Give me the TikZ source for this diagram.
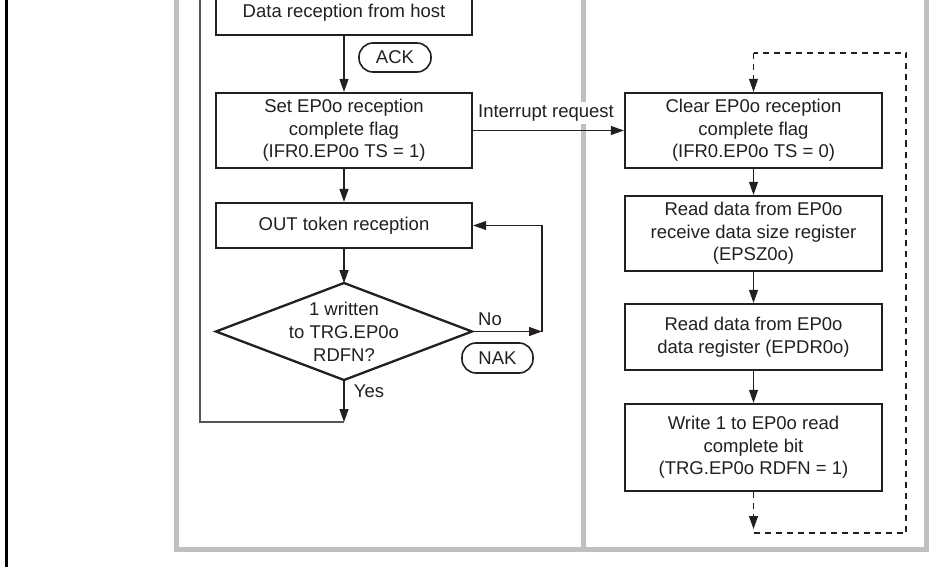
\documentclass[tikz,border=0pt]{standalone}
\usepackage{fontspec}
\setmainfont{Liberation Sans}
\usetikzlibrary{arrows.meta}
\definecolor{framegray}{HTML}{BEBFC1}
\definecolor{ink}{HTML}{231F20}
\definecolor{loopgray}{HTML}{555555}
\begin{document}
\begin{tikzpicture}[x=1pt,y=-1pt,
  font=\fontsize{18.5}{22.5}\selectfont,
  proc/.style={draw=ink, line width=2.3pt, minimum width=256pt, align=center, inner sep=0pt, text=ink},
  pill/.style={draw=ink, line width=1.6pt, rounded corners=14pt, inner sep=0pt, text=ink},
  lbl/.style={inner sep=0pt, text=ink},
  arr/.style={draw=ink, line width=1.1pt, -{Triangle[length=13pt,width=9pt]}},
  plainline/.style={draw=ink, line width=1.1pt},
  loopline/.style={draw=loopgray, line width=1.2pt},
  dashline/.style={draw=ink, line width=1.1pt, dash pattern=on 6pt off 5pt},
  dasharr/.style={dashline, -{Triangle[length=13pt,width=9pt]}},
  frame/.style={draw=framegray, line width=5pt}
]
\useasboundingbox (0,0) rectangle (937,567);
\clip (0,0) rectangle (937,567);

% frame
\draw[black, line width=3pt] (6.5,-5) -- (6.5,572);
\draw[frame] (176.5,-10) -- (176.5,549.5) -- (926.5,549.5) -- (926.5,-10);
\draw[frame] (583.5,-10) -- (583.5,549.5);

% left column
\node[proc, minimum height=45pt] (data) at (344,12.5) {Data reception from host};
\node[pill, minimum width=72pt, minimum height=29pt] (ack) at (395,57.5) {ACK};
\node[proc, minimum height=75pt] (set) at (344,130.5) {Set EP0o reception\\complete flag\\(IFR0.EP0o TS = 1)};
\node[proc, minimum height=45pt] (out) at (344,225.5) {OUT token reception};
\coordinate (dW) at (216,331.5);
\coordinate (dN) at (344,283);
\coordinate (dE) at (472,331.5);
\coordinate (dS) at (344,380);
\draw[draw=ink, line width=2.3pt, line join=miter] (dW) -- (dN) -- (dE) -- (dS) -- cycle;
\node[lbl, align=center, font=\fontsize{18.5}{23}\selectfont] (dtext) at (344,331.5) {1 written\\to TRG.EP0o\\RDFN?};
\node[pill, minimum width=71pt, minimum height=30pt] (nak) at (497.5,358) {NAK};
\node[lbl] (no) at (490,319) {No};
\node[lbl] (yes) at (369,391) {Yes};

\coordinate (yesend) at (344,422);
\coordinate (loopcorner) at (200,422);
\coordinate (looptop) at (200,-10);
\coordinate (noend) at (542,331.5);

\draw[arr] (data.south) -- (set.north);
\draw[arr] (set.south) -- (out.north);
\draw[arr] (out.south) -- (dN);
\draw[arr] (dS) -- (yesend);
\draw[loopline] (yesend) -- (loopcorner) -- (looptop);
\draw[arr] (dE) -- (noend);
\draw[arr] (noend) |- (out.east);

% right column
\node[proc, minimum width=257pt, minimum height=75pt] (clear) at (753.5,130.5) {Clear EP0o reception\\complete flag\\(IFR0.EP0o TS = 0)};
\node[proc, minimum width=257pt, minimum height=75pt] (read1) at (753.5,233.5) {Read data from EP0o\\receive data size register\\(EPSZ0o)};
\node[proc, minimum width=257pt, minimum height=66pt] (read2) at (753.5,337) {Read data from EP0o\\data register (EPDR0o)};
\node[proc, minimum width=257pt, minimum height=87pt] (write) at (753.5,447.5) {Write 1 to EP0o read\\complete bit\\(TRG.EP0o RDFN = 1)};

\draw[arr] (clear.south) -- (read1.north);
\draw[arr] (read1.south) -- (read2.north);
\draw[arr] (read2.south) -- (write.north);

% interrupt request
\node[lbl, fill=white, inner sep=3pt] (irq) at (546,113) {Interrupt request};
\draw[arr] (set.east |- 0,130.5) -- (clear.west);

% dashed loop
\coordinate (dtop) at (753.5,53);
\coordinate (dtr) at (906,53);
\coordinate (dbr) at (906,533);
\coordinate (dbot) at (753.5,533);
\coordinate (dtip) at (753.5,529);
\draw[dasharr] (dtop) -- (clear.north);
\draw[dashline] (dbot) -- (dbr) -- (dtr) -- (dtop);
\draw[dasharr] (write.south) -- (dtip);
\end{tikzpicture}
\end{document}
